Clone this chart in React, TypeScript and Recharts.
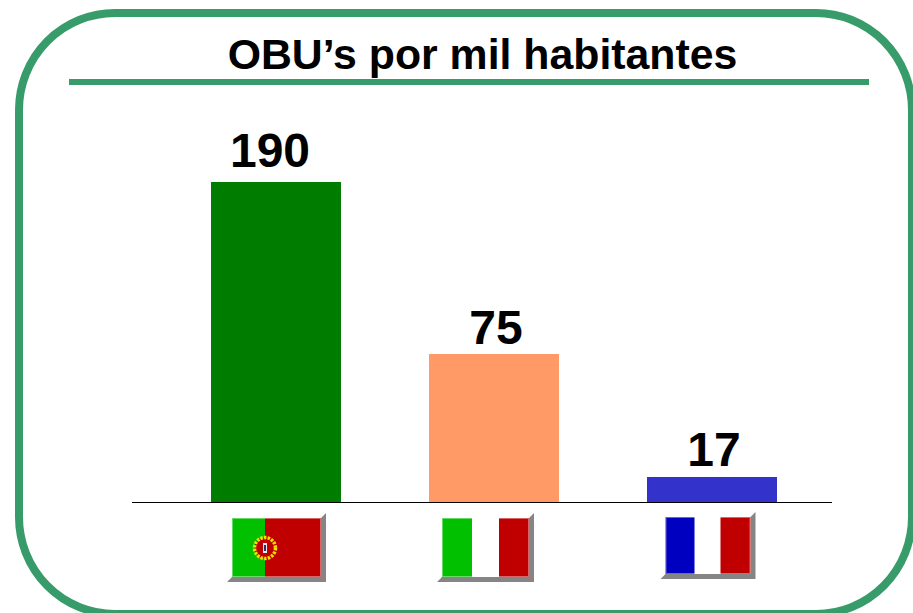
import { BarChart, Bar, Cell, XAxis, YAxis, LabelList } from "recharts";

const countries = ["Portugal", "Italia", "Franca"];
// the printed figures; the drawn bars in the picture are not proportional to them
const printedValues = [190, 75, 17];
// bar lengths, on the scale of the tallest bar
const barLevels = [190, 87.9, 14.8];
const barColors = ["#007c00", "#ff9966", "#3333cc"];
const titleText = "OBU’s por mil habitantes";

const FRAME_GREEN = "#389c6a";
const SHADOW = "#858585";
const EDGE = "rgba(255,255,255,0.4)";

// the slide's labels and flags are hand placed, not centred on the bars
const labelShift = [
  { dx: -6, dy: -15 },
  { dx: 2, dy: -10 },
  { dx: 2, dy: -11 },
];
const flagBoxes: Record<string, { left: number; width: number; top: number; height: number; a: number; b: number }> = {
  Portugal: { left: -44, width: 89, top: 0, height: 59, a: 33, b: 33 },
  Italia: { left: -52, width: 87, top: 0, height: 59, a: 30, b: 57 },
  Franca: { left: -46.5, width: 85, top: -1, height: 57, a: 29, b: 55 },
};
const flagColors: Record<string, string> = {
  Portugal: "#00c000",
  Italia: "#00c000",
  Franca: "#0000c0",
};

const chartData = countries.map((country, i) => ({
  country,
  level: barLevels[i],
  printed: printedValues[i],
}));

function FlagTick(props: any) {
  const { x, y, payload } = props;
  const country = payload.value as string;
  const box = flagBoxes[country];
  const l = x + box.left;
  const t = y + 8 + box.top;
  const r = l + box.width;
  const b = t + box.height;
  return (
    <g>
      <path
        d={`M${l - 5} ${b + 5}L${r + 5} ${b + 5}L${r + 5} ${t - 5}L${r} ${t}L${r} ${b}L${l} ${b}Z`}
        fill={SHADOW}
      />
      <rect x={l} y={t} width={box.a} height={box.height} fill={flagColors[country]} />
      <rect x={l + box.b} y={t} width={box.width - box.b} height={box.height} fill="#c00000" />
      <rect x={l + 0.5} y={t + 0.5} width={box.width - 1} height={box.height - 1} fill="none" stroke={EDGE} />
      {country === "Portugal" && (
        <g>
          <circle cx={l + 33} cy={t + 30} r={10.5} fill="#c00000" stroke="#f0e000" strokeWidth={3.5} strokeDasharray="2.5 1.2" />
          <rect x={l + 29} y={t + 22} width={8} height={16} fill="#c00000" />
          <rect x={l + 31} y={t + 25} width={4} height={10} fill="#e8e8e8" />
          <rect x={l + 32} y={t + 27} width={2} height={6} fill="#303060" />
        </g>
      )}
    </g>
  );
}

function ValueLabel(props: any) {
  const { x, y, width, value, index } = props;
  const shift = labelShift[index];
  return (
    <text
      x={x + width / 2 + shift.dx}
      y={y + shift.dy}
      textAnchor="middle"
      fontFamily="Liberation Sans"
      fontWeight="bold"
      fontSize={48}
      fill="#000"
    >
      {value}
    </text>
  );
}

export default function App() {
  return (
    <div style={{ position: "absolute", left: 0, top: 0, width: 913, height: 613, overflow: "hidden", background: "#fff" }}>
      <BarChart
        width={913}
        height={613}
        data={chartData}
        margin={{ top: 182, right: 81, bottom: 11, left: 132 }}
      >
        <rect x={19} y={13} width={893} height={601} rx={96} ry={97} fill="none" stroke={FRAME_GREEN} strokeWidth={8} />
        <rect x={69} y={79} width={800} height={6} fill={FRAME_GREEN} />
        <text
          x={482.5}
          y={69}
          textAnchor="middle"
          fontFamily="Liberation Sans"
          fontWeight="bold"
          fontSize={42.8}
          fill="#000"
        >
          {titleText}
        </text>
        <XAxis
          dataKey="country"
          height={100}
          padding={{ left: 35, right: 11 }}
          axisLine={{ stroke: "#000", strokeWidth: 1, shapeRendering: "crispEdges" }}
          tickLine={false}
          interval={0}
          tick={<FlagTick />}
        />
        <YAxis hide domain={[0, 190]} />
        <Bar dataKey="level" barSize={130} isAnimationActive={false}>
          {chartData.map((entry, i) => (
            <Cell key={entry.country} fill={barColors[i]} />
          ))}
          <LabelList dataKey="printed" content={<ValueLabel />} />
        </Bar>
      </BarChart>
    </div>
  );
}
